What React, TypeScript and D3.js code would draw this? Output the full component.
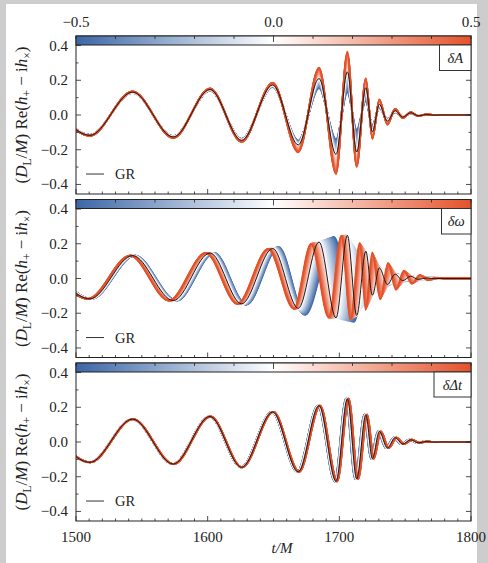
import React from "react";
import * as d3 from "d3";

// ---------- data ----------
// GR waveform extrema (t/M, value)
const grT = [1478, 1510.6, 1543, 1573.9, 1601.8, 1625.8, 1649.4, 1668.8, 1684.6, 1697.5, 1706.1, 1713.2, 1720.1, 1725.1, 1730.4, 1736.5, 1742.4, 1748.2, 1754.2, 1760, 1766, 1772, 1778, 1784, 1790, 1800];
const grV = [0.115, -0.117, 0.132, -0.127, 0.147, -0.146, 0.173, -0.172, 0.21, -0.227, 0.249, -0.213, 0.157, -0.096, 0.061, -0.035, 0.025, -0.012, 0.013, -0.005, 0.003, -0.001, 0.0005, 0, 0, 0];

// deltaA : extrema values at parameter +0.5 and -0.5
const ampHighV = [0.118, -0.12, 0.136, -0.132, 0.153, -0.155, 0.186, -0.215, 0.272, -0.34, 0.365, -0.3, 0.212, -0.138, 0.09, -0.056, 0.036, -0.018, 0.016, -0.007, 0.004, -0.001, 0.0005, 0, 0, 0];
const ampLowV = [0.112, -0.114, 0.128, -0.122, 0.14, -0.137, 0.162, -0.148, 0.155, -0.14, 0.13, -0.085, 0.08, -0.058, 0.04, -0.022, 0.016, -0.008, 0.009, -0.003, 0.002, -0.001, 0, 0, 0, 0];

// deltaOmega : extrema times and values at parameter +0.5 and -0.5
const omHighT = [1477, 1509, 1541, 1570.5, 1598.5, 1622.5, 1646, 1665.5, 1678.5, 1692, 1701.5, 1708.5, 1715.5, 1720, 1725, 1731, 1737, 1743, 1749, 1755, 1761, 1767, 1773, 1780, 1787, 1800];
const omHighV = [0.115, -0.117, 0.132, -0.127, 0.147, -0.146, 0.17, -0.175, 0.2, -0.225, 0.245, -0.235, 0.205, -0.18, 0.15, -0.12, 0.09, -0.065, 0.045, -0.03, 0.02, -0.01, 0.004, 0, 0, 0];
const omLowT = [1478.5, 1511.8, 1544.8, 1576.5, 1605, 1629.5, 1654, 1674, 1696, 1711, 1721, 1730, 1738, 1746, 1754, 1762, 1770, 1778, 1786, 1794, 1802, 1810, 1818, 1826, 1834, 1842];
const omLowV = [0.115, -0.117, 0.132, -0.127, 0.147, -0.15, 0.18, -0.21, 0.24, -0.25, 0.05, -0.012, 0.003, 0, 0, 0, 0, 0, 0, 0, 0, 0, 0, 0, 0, 0];

// deltaDeltaT : time shift of each extremum at parameter +0.5
const dtShift = [0.2, 0.2, 0.3, 0.3, 0.4, 0.5, 0.6, 0.8, 0.9, 1.0, 1.1, 1.2, 1.2, 1.2, 1.2, 1.2, 1.2, 1.2, 1.2, 1.2, 1.2, 1.2, 1.2, 1.2, 1.2, 0];

const paramValues = [-0.5, -0.475, -0.45, -0.425, -0.4, -0.375, -0.35, -0.325, -0.3, -0.275, -0.25, -0.225, -0.2, -0.175, -0.15, -0.125, -0.1, -0.075, -0.05, -0.025, 0, 0.025, 0.05, 0.075, 0.1, 0.125, 0.15, 0.175, 0.2, 0.225, 0.25, 0.275, 0.3, 0.325, 0.35, 0.375, 0.4, 0.425, 0.45, 0.475, 0.5];
const cbTicks = [-0.5, -0.4, -0.3, -0.2, -0.1, 0, 0.1, 0.2, 0.3, 0.4, 0.5];
const cbLabels = [-0.5, 0, 0.5];
const yTicks = [-0.4, -0.2, 0, 0.2, 0.4];
const yMinor = [-0.4, -0.3, -0.2, -0.1, 0, 0.1, 0.2, 0.3, 0.4];
const xLabels = [1500, 1600, 1700, 1800];
const xMinor = d3.range(1500, 1801, 10);
const panelKeys = ["A", "omega", "dt"];

// ---------- layout ----------
const W = 488, H = 563;
const xL = 76, xR = 471;
const panelTops = [36, 199.5, 363];
const panelH = 158;
const cbH = 9;
const FONT = "'Liberation Serif', 'Times New Roman', serif";

const x = d3.scaleLinear().domain([1500, 1800]).range([xL, xR]);
const cbScale = d3.scaleLinear().domain([-0.5, 0.5]).range([xL, xR]);
const color = d3.scaleLinear<string>().domain([-0.5, 0, 0.5]).range(["#3b66a6", "#ffffff", "#e4522a"]).interpolate(d3.interpolateRgb);

const lerp = (a: number[], b: number[], f: number) => a.map((v, i) => v + (b[i] - v) * f);

function curveFor(key: string, p: number): [number, number][] {
  const f = p / 0.5;
  const af = Math.abs(f);
  let ts = grT, vs = grV;
  if (key === "A") {
    vs = lerp(grV, f >= 0 ? ampHighV : ampLowV, af);
  } else if (key === "omega") {
    ts = lerp(grT, f >= 0 ? omHighT : omLowT, af);
    vs = lerp(grV, f >= 0 ? omHighV : omLowV, af);
  } else {
    ts = grT.map((t, i) => t + f * dtShift[i]);
  }
  return ts.map((t, i) => [t, vs[i]] as [number, number]);
}

function YLabel({ cx, cy }: { cx: number; cy: number }) {
  const fs = 17, ss = 11.5, d = 3.5;
  return (
    <text transform={`translate(${cx},${cy}) rotate(-90)`} textAnchor="middle" fontFamily={FONT} fontSize={fs} fill="#222">
      <tspan>(</tspan>
      <tspan fontStyle="italic">D</tspan>
      <tspan fontSize={ss} dy={d}>L</tspan>
      <tspan dy={-d}>/</tspan>
      <tspan fontStyle="italic">M</tspan>
      <tspan>) Re(</tspan>
      <tspan fontStyle="italic">h</tspan>
      <tspan fontSize={ss} dy={d}>+</tspan>
      <tspan dy={-d}> − i</tspan>
      <tspan fontStyle="italic">h</tspan>
      <tspan fontSize={ss} dy={d}>×</tspan>
      <tspan dy={-d}>)</tspan>
    </text>
  );
}

function Panel({ idx }: { idx: number }) {
  const key = panelKeys[idx];
  const top = panelTops[idx];
  const bottom = top + panelH;
  const y = d3.scaleLinear().domain([-0.455, 0.455]).range([bottom, top]);
  const line = d3.line<[number, number]>().x(d => x(d[0])).y(d => y(d[1])).curve(d3.curveMonotoneX);
  const clipId = `clip${idx}`;
  const gradId = `grad${idx}`;
  const boxes = [
    { left: 439.5, bottom: 70.5 - 36, label: "A" },
    { left: 441.5, bottom: 234 - 199.5, label: "ω" },
    { left: 434, bottom: 397 - 363, label: "Δt" },
  ];
  const box = boxes[idx];
  const legY = y(-0.34);
  return (
    <g>
      <defs>
        <clipPath id={clipId}>
          <rect x={xL} y={top} width={xR - xL} height={panelH} />
        </clipPath>
        <linearGradient id={gradId} x1="0" x2="1" y1="0" y2="0">
          {d3.range(0, 1.0001, 0.05).map(s => (
            <stop key={s} offset={s} stopColor={color(-0.5 + s)} />
          ))}
        </linearGradient>
      </defs>
      <rect x={xL} y={top} width={xR - xL} height={panelH} fill="#fff" />
      <g clipPath={`url(#${clipId})`}>
        {paramValues.map(p => (
          <path key={p} d={line(curveFor(key, p)) || ""} fill="none" stroke={color(p)} strokeWidth={1.8} strokeLinejoin="round" />
        ))}
        <path d={line(curveFor(key, 0)) || ""} fill="none" stroke="#1a1a1a" strokeWidth={1} />
      </g>
      {/* ticks */}
      {xMinor.map(t => (
        <line key={"xb" + t} x1={x(t)} x2={x(t)} y1={bottom} y2={bottom - (t % 100 === 0 ? 5 : 2.5)} stroke="#222" strokeWidth={0.8} />
      ))}
      {yMinor.map(v => {
        const major = Math.abs(Math.round(v * 10)) % 2 === 0;
        const len = major ? 5 : 2.5;
        return (
          <g key={"y" + v}>
            <line x1={xL} x2={xL + len} y1={y(v)} y2={y(v)} stroke="#222" strokeWidth={0.8} />
            <line x1={xR} x2={xR - len} y1={y(v)} y2={y(v)} stroke="#222" strokeWidth={0.8} />
          </g>
        );
      })}
      {yTicks.map(v => (
        <text key={"yl" + v} x={68} y={y(v) + 5} textAnchor="end" fontFamily={FONT} fontSize={15} fill="#222">
          {v < 0 ? "−" + Math.abs(v).toFixed(1) : v.toFixed(1)}
        </text>
      ))}
      <rect x={xL} y={top} width={xR - xL} height={panelH} fill="none" stroke="#222" strokeWidth={1} />
      {/* colorbar */}
      <rect x={xL} y={top} width={xR - xL} height={cbH} fill={`url(#${gradId})`} stroke="#222" strokeWidth={1} />
      {cbTicks.map(c => (
        <line key={"cb" + c} x1={cbScale(c)} x2={cbScale(c)} y1={top} y2={top + (c === 0 ? 6 : 3)} stroke="#222" strokeWidth={0.8} />
      ))}
      {/* label box */}
      <rect x={box.left} y={top + cbH} width={xR - box.left} height={box.bottom - cbH} fill="#fff" stroke="#333" strokeWidth={1} />
      <text x={(box.left + xR) / 2} y={top + cbH + (box.bottom - cbH) / 2 + 5} textAnchor="middle" fontFamily={FONT} fontSize={14.5} fontStyle="italic" fill="#222">
        {"δ" + box.label}
      </text>
      {/* legend */}
      <line x1={86} x2={104} y1={legY} y2={legY} stroke="#333" strokeWidth={1} />
      <text x={115} y={legY + 5} fontFamily={FONT} fontSize={14.5} fill="#222">GR</text>
      <YLabel cx={27} cy={(top + bottom) / 2} />
    </g>
  );
}

export default function App() {
  return (
    <svg width={W} height={H} style={{ position: "absolute", left: 0, top: 0 }} xmlns="http://www.w3.org/2000/svg">
      <rect x={0} y={0} width={W} height={H} fill="#fff" />
      <rect x={0} y={0} width={W} height={4} fill="#cdcdcd" />
      <rect x={0} y={0} width={6} height={H} fill="#cdcdcd" />
      <rect x={477} y={0} width={W - 477} height={H} fill="#cdcdcd" />
      {cbLabels.map(c => (
        <text key={"cbl" + c} x={cbScale(c)} y={26.5} textAnchor="middle" fontFamily={FONT} fontSize={15} fill="#222">
          {c < 0 ? "−" + Math.abs(c).toFixed(1) : c.toFixed(1)}
        </text>
      ))}
      {[0, 1, 2].map(i => (
        <Panel key={i} idx={i} />
      ))}
      {xLabels.map(t => (
        <text key={"xl" + t} x={x(t)} y={541.5} textAnchor="middle" fontFamily={FONT} fontSize={15} fill="#222">
          {t}
        </text>
      ))}
      <text x={282} y={553} textAnchor="middle" fontFamily={FONT} fontSize={15} fontStyle="italic" fill="#222">
        t/M
      </text>
    </svg>
  );
}
